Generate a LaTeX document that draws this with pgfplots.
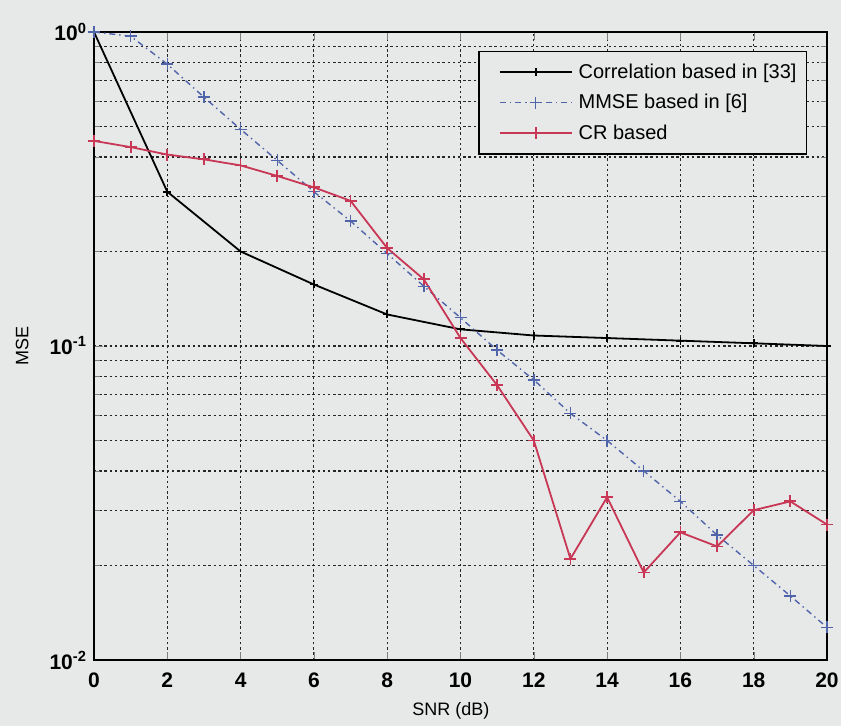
\documentclass[border=0pt]{standalone}
\usepackage{pgfplots}
\pgfplotsset{compat=1.18}
\usepackage{fontspec}
\setmainfont{Liberation Sans}
\definecolor{bg}{RGB}{231,232,232}
\definecolor{mmse}{RGB}{80,100,170}
\definecolor{cr}{RGB}{200,55,85}
\begin{document}
\begin{tikzpicture}
\fill[bg] (-47pt,-33pt) rectangle (373.5pt,330pt);
\useasboundingbox (-47pt,-33pt) rectangle (373.5pt,330pt);
\begin{axis}[
  scale only axis, width=366.5pt, height=314pt,
  at={(0pt,0pt)}, anchor=south west,
  xmin=0, xmax=20, ymin=0.01, ymax=1, ymode=log,
  xtick={0,2,...,20},
  xticklabels={0,2,4,6,8,10,12,14,16,18,20},
  ytick={0.01,0.1,1},
  yticklabels={10\textsuperscript{-2},10\textsuperscript{-1},10\textsuperscript{0}},
  ticklabel style={font=\fontsize{10.5}{12}\selectfont\bfseries},
  xticklabel style={yshift=-3pt},
  grid=both,
  major grid style={dash pattern=on 1.2pt off 1.4pt, black!85, line width=0.6pt},
  minor grid style={dash pattern=on 1.2pt off 1.4pt, black!85, line width=0.6pt},
  tick align=inside,
  axis line style={line width=0.9pt},
  xlabel={SNR (dB)}, ylabel={MSE},
  label style={font=\fontsize{9}{11}\selectfont},
  xlabel style={at={(axis description cs:0.487,-0.081)}, anchor=center},
  ylabel style={at={(axis description cs:-0.098,0.5)}, anchor=center},
  legend cell align=left,
  legend style={at={(0.973,0.97)}, anchor=north east, draw=black, fill=bg,
    font=\fontsize{10}{12}\selectfont, inner xsep=3pt, inner ysep=4pt, row sep=2.5pt, line width=0.7pt},
  legend image code/.code={\path (0pt,0pt) (44pt,0pt);\draw[mark repeat=2,mark phase=2,#1] plot coordinates {(7pt,0pt) (25pt,0pt) (43pt,0pt)};},
]
\addplot[black, line width=0.9pt, mark=+, mark size=2pt] coordinates {
(0,1.0) (2,0.31) (4,0.20) (6,0.157) (8,0.126) (10,0.113) (12,0.108) (14,0.106) (16,0.104) (18,0.102) (20,0.100)};
\addlegendentry{Correlation based in [33]}
\addplot[mmse, line width=0.7pt, dash dot, mark=+, mark size=3pt, mark options={solid}] coordinates {
(0,1.0) (1,0.97) (2,0.79) (3,0.62) (4,0.49) (5,0.39) (6,0.31) (7,0.25) (8,0.197) (9,0.155) (10,0.123)
(11,0.097) (12,0.078) (13,0.061) (14,0.050) (15,0.040) (16,0.032) (17,0.025) (18,0.020) (19,0.016) (20,0.0127)};
\addlegendentry{MMSE based in [6]}
\addplot[cr, line width=0.9pt, mark=+, mark size=3pt] coordinates {
(0,0.45) (1,0.43) (2,0.407) (3,0.393) (4,0.376) (5,0.348) (6,0.32) (7,0.29) (8,0.205) (9,0.163) (10,0.106)
(11,0.075) (12,0.050) (13,0.021) (14,0.033) (15,0.019) (16,0.0255) (17,0.023) (18,0.030) (19,0.032) (20,0.027)};
\addlegendentry{CR based}
\end{axis}
\end{tikzpicture}
\end{document}
